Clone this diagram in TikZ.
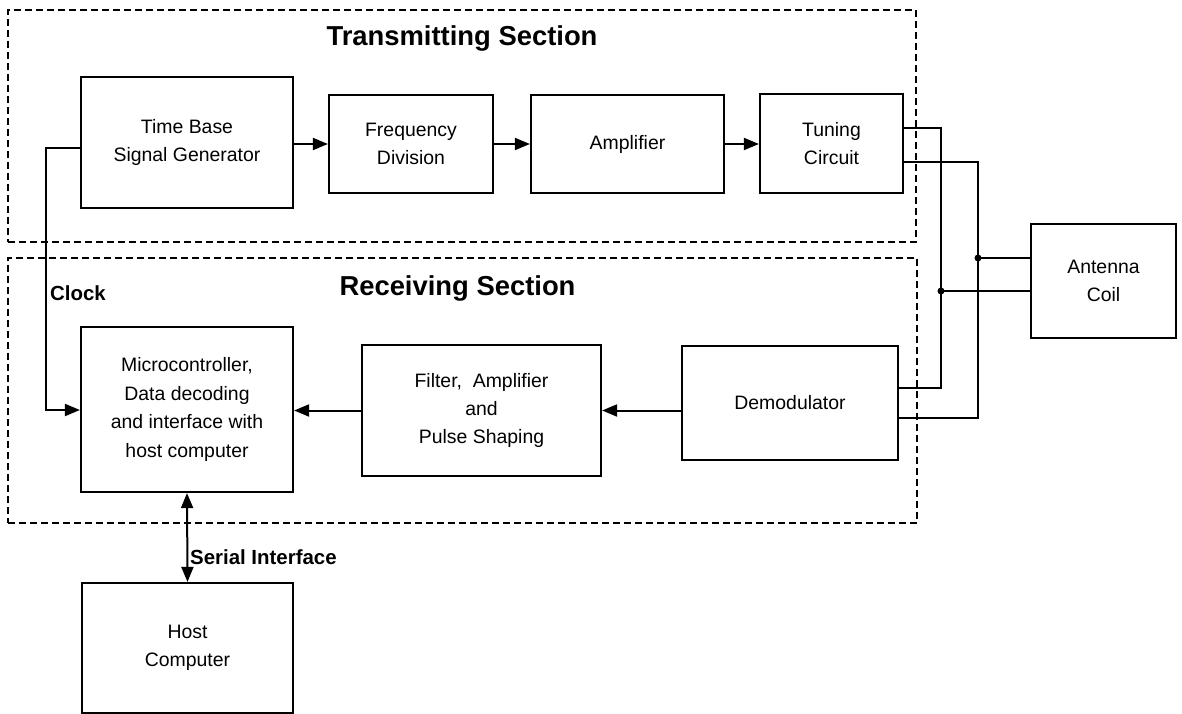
\documentclass[tikz,border=0pt]{standalone}
\usepackage{fontspec}
\setmainfont{Liberation Sans}
\usetikzlibrary{arrows.meta,calc}
\begin{document}
\begin{tikzpicture}[x=1bp,y=-1bp,
  blk/.style={draw,line width=2.2bp,align=center,inner sep=0pt,
    font=\fontsize{19.5}{28.5}\selectfont},
  sz/.style 2 args={minimum width=#1bp,minimum height=#2bp},
  sect/.style={draw,line width=1.8bp,dash pattern=on 7bp off 4bp,inner sep=0pt},
  title/.style={font=\bfseries\fontsize{27.5}{30}\selectfont,inner sep=0pt},
  lbl/.style={font=\bfseries\fontsize{20.5}{22}\selectfont,inner sep=0pt,anchor=west},
  wire/.style={line width=2bp},
  arr/.style={line width=2bp,-{Triangle[length=15bp,width=12bp]}},
  darr/.style={line width=2bp,{Triangle[length=15bp,width=12bp]}-{Triangle[length=15bp,width=12bp]}},
  dot/.style={circle,fill,inner sep=0pt,minimum size=7bp}
]
\useasboundingbox[fill=white] (0,0) rectangle (1182,714);

% sections
\node[sect,sz={908}{232}] (tx) at (462,126) {};
\node[sect,sz={909}{265}] (rx) at (462.5,390.5) {};
\node[title] (txt) at (462,38) {Transmitting Section};
\node[title] (rxt) at (457.5,288) {Receiving Section};

% blocks
\node[blk,sz={212}{131}] (tb) at (187,142.5) {Time Base\\Signal Generator};
\node[blk,sz={164}{98}] (fd) at (411,144) {Frequency\\Division};
\node[blk,sz={193}{98}] (am) at (627.5,144) {Amplifier};
\node[blk,sz={143}{99}] (tc) at (831.5,143.5) {Tuning\\Circuit};
\node[blk,sz={145}{114}] (ac) at (1103.5,281) {Antenna\\Coil};
\node[blk,sz={212}{165}] (mc) at (187,409.5) {Microcontroller,\\Data decoding\\and interface with\\host computer};
\node[blk,sz={239}{131}] (fl) at (481.5,410.5) {Filter,\ \ Amplifier\\and\\Pulse Shaping};
\node[blk,sz={216}{114}] (dm) at (790,403) {Demodulator};
\node[blk,sz={211}{130}] (hc) at (187.5,648) {Host\\Computer};

% transmit chain
\draw[arr] (tb.east |- fd.west) -- (fd.west);
\draw[arr] (fd.east) -- (am.west);
\draw[arr] (am.east) -- (tc.west |- am.east);

% receive chain
\draw[arr] (dm.west |- fl.east) -- (fl.east);
\draw[arr] (fl.west) -- (mc.east |- fl.west);

% clock
\coordinate (ck1) at (46,148);
\coordinate (ck2) at (46,410);
\draw[arr] (tb.west |- ck1) -- (ck1) -- (ck2) -- (mc.west |- ck2);
\node[lbl] (clk) at (50,293) {Clock};

% serial interface
\draw[darr] (mc.south) -- (hc.north);
\node[lbl] (ser) at (190,557) {Serial Interface};

% antenna wiring
\coordinate (w1a) at (941,128);
\coordinate (w1b) at (941,388);
\coordinate (w2a) at (978,162);
\coordinate (w2b) at (978,418);
\coordinate (j1) at (941,291);
\coordinate (j2) at (978,258);
\draw[wire] (tc.east |- w1a) -- (w1a) -- (w1b) -- (dm.east |- w1b);
\draw[wire] (tc.east |- w2a) -- (w2a) -- (w2b) -- (dm.east |- w2b);
\draw[wire] (j2) -- (ac.west |- j2);
\draw[wire] (j1) -- (ac.west |- j1);
\node[dot] (d1) at (j1) {};
\node[dot] (d2) at (j2) {};
\end{tikzpicture}
\end{document}
